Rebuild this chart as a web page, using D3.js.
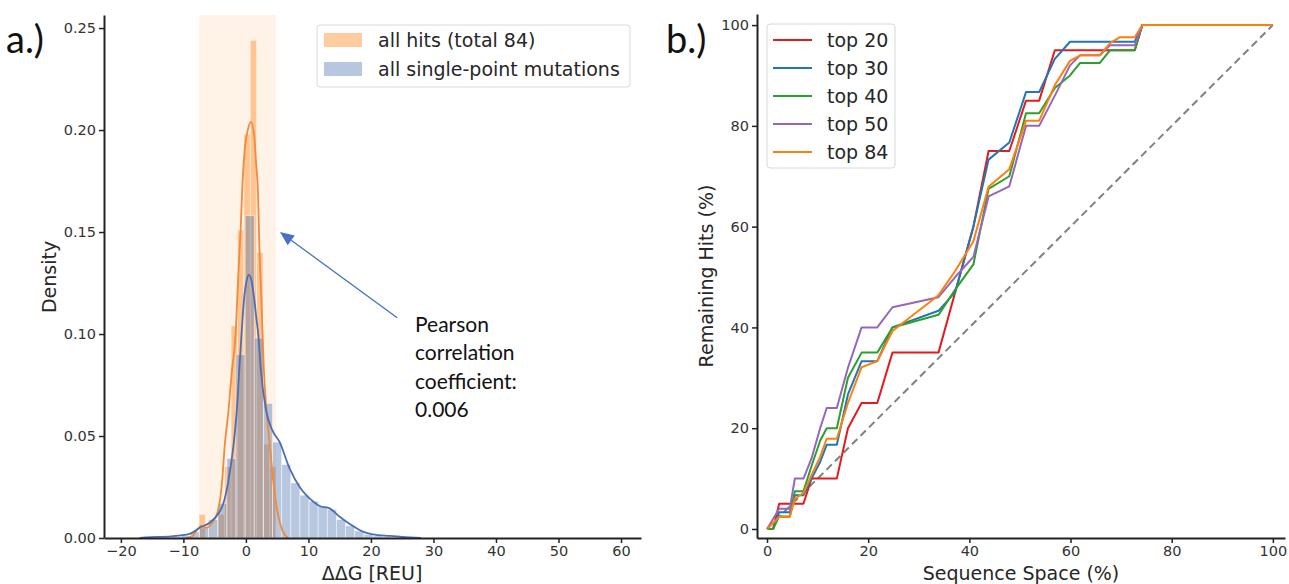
<!DOCTYPE html>
<html>
<head>
<meta charset="utf-8">
<script src="https://cdn.jsdelivr.net/npm/d3@7"></script>
<style>
body{margin:0;background:#fff}
svg text{font-family:"DejaVu Sans",sans-serif}
</style>
</head>
<body>
<svg id="chart" width="1289" height="584"></svg>
<script>
// ---- panel a: histograms of ddG (density) ----
const hitEdges = [-7.5,-6.475,-5.45,-4.425,-3.4,-2.375,-1.35,-0.325,0.7,1.725,2.75,3.775,4.8];
const hitDensity = [0.0116,0,0,0.0116,0.035,0.104,0.151,0.198,0.244,0.14,0.046,0.035];

const allEdges = [-16.18,-14.72,-13.26,-11.8,-10.34,-8.88,-7.42,-5.96,-4.5,-3.04,-1.58,-0.12,1.34,2.8,4.26,5.72,7.18,8.64,10.1,11.56,13.02,14.48,15.94,17.4,18.86,20.32,21.78,23.24,24.7,26.16,27.62];
const allDensity = [0.0002,0.0003,0.0004,0.0006,0.0012,0.003,0.005,0.009,0.017,0.039,0.09,0.158,0.098,0.066,0.047,0.036,0.027,0.021,0.018,0.0155,0.014,0.009,0.006,0.0035,0.0018,0.001,0.0006,0.0004,0.0002,0.0001];

// kde curves
const hitKdeX = [-9.5,-8.5,-7.8,-7.1,-6.4,-5.5,-4.5,-3.8,-3.4,-2.8,-2.3,-1.65,-1.2,-0.85,-0.6,-0.2,0.3,0.8,1.3,1.6,1.97,2.08,2.5,2.88,3.3,3.84,4.37,5.1,5.8,6.7];
const hitKdeY = [0,0.001,0.004,0.006,0.005,0.007,0.013,0.028,0.045,0.062,0.08,0.10,0.13,0.151,0.17,0.19,0.2,0.204,0.198,0.185,0.166,0.151,0.115,0.082,0.062,0.045,0.028,0.012,0.004,0];
const allKdeX = [-17,-16,-12,-9,-7.4,-5.8,-4.4,-3.6,-2.8,-2.0,-1.4,-1.07,-0.7,-0.3,0.1,0.5,0.9,1.3,1.7,1.97,2.4,3.2,4.2,5.4,7.0,8.6,10.8,11.8,13.4,15.0,16.6,18.8,20.3,23,25,28];
const allKdeY = [0,0.0003,0.0008,0.002,0.005,0.0075,0.012,0.017,0.028,0.045,0.065,0.082,0.1,0.117,0.126,0.129,0.126,0.118,0.107,0.1,0.082,0.063,0.053,0.047,0.034,0.025,0.0178,0.0157,0.0145,0.0104,0.0069,0.003,0.0018,0.001,0.0005,0];

const shadeRange = [-7.5, 4.8];
const xTicksA = [-20,-10,0,10,20,30,40,50,60];
const yTicksA = [0,0.05,0.10,0.15,0.20,0.25];
const legendA = ['all hits (total 84)', 'all single-point mutations'];
const noteLines = ['Pearson', 'correlation', 'coefficient:', '0.006'];

// ---- panel b: remaining hits vs sequence space ----
const seqSpace = [0,1.2,2.4,4.5,5.5,7.2,8.8,10.5,11.8,13.8,16.0,18.7,21.8,24.8,33.9,37.2,40.8,43.8,47.9,51.2,53.8,56.9,59.9,61.9,65.8,67.8,69.8,72.7,74.2,100];
const top20 = [0,0,5,5,5,5,10,10,10,10,20,25,25,35,35,47,60,75,75,85,85,95,95,95,95,95,95,95,100,100];
const top30 = [0,0,3.3,3.3,6.7,6.7,10,13.3,16.7,16.7,26.7,33.3,33.3,40,43.3,47,60,73.3,76.7,86.7,86.7,93.3,96.7,96.7,96.7,96.7,96.7,96.7,100,100];
const top40 = [0,0,2.5,2.5,7.5,7.5,12.5,17.5,20,20,30,35,35,40,42.5,47.5,52.5,67.5,70,82.5,82.5,87.5,90,92.5,92.5,95,95,95,100,100];
const top50 = [0,2,4,4,10,10,14,20,24,24,32,40,40,44,46,50,54,66,68,80,80,86,92,94,94,96,96,96,100,100];
const top84 = [0,1.2,2.4,2.4,6,7.1,10.7,14.3,17.9,17.9,25,32.1,33.3,39.3,46.4,51.2,57.1,67.9,71.4,81,81,88.1,92.9,94,94,96.4,97.6,97.6,100,100];
const seriesNames = ['top 20','top 30','top 40','top 50','top 84'];
const seriesColors = ['#e41a1c','#1f77b4','#2ca02c','#9467bd','#ff7f0e'];
const xTicksB = [0,20,40,60,80,100];
const yTicksB = [0,20,40,60,80,100];

const svg = d3.select('#chart');

function styleAxis(g){
    g.select('.domain').attr('stroke','#222').attr('stroke-width',2);
    g.selectAll('.tick line').attr('stroke','#222').attr('stroke-width',1.5);
    g.selectAll('.tick text').attr('fill','#333').style('font-size','14.5px');
}

// ================= panel a =================
const xA = d3.scaleLinear().domain([-22.7,63.2]).range([104,641]);
const yA = d3.scaleLinear().domain([0,0.2564]).range([538,15]);
const ga = svg.append('g');

ga.append('rect')
    .attr('x', xA(shadeRange[0])).attr('width', xA(shadeRange[1]) - xA(shadeRange[0]))
    .attr('y', yA.range()[1]).attr('height', yA.range()[0] - yA.range()[1])
    .attr('fill','#ff7f0e').attr('fill-opacity',0.1);

const drawBars = (edges, dens, color) => {
    ga.append('g').selectAll('rect').data(dens).join('rect')
        .attr('x', (d,i) => xA(edges[i]))
        .attr('width', (d,i) => xA(edges[i+1]) - xA(edges[i]))
        .attr('y', d => yA(d))
        .attr('height', d => yA(0) - yA(d))
        .attr('fill', color).attr('fill-opacity',0.4)
        .attr('stroke','#fff').attr('stroke-opacity',0.6).attr('stroke-width',0.8);
};
drawBars(hitEdges, hitDensity, '#ff7f0e');
drawBars(allEdges, allDensity, '#4c72b0');

const kdeLine = d3.line().x(d => xA(d[0])).y(d => yA(d[1])).curve(d3.curveMonotoneX);
ga.append('path').datum(d3.zip(hitKdeX, hitKdeY)).attr('d', kdeLine)
    .attr('fill','none').attr('stroke','#f28a3c').attr('stroke-width',1.8);
ga.append('path').datum(d3.zip(allKdeX, allKdeY)).attr('d', kdeLine)
    .attr('fill','none').attr('stroke','#4a6fb5').attr('stroke-width',1.8);

ga.append('g').attr('transform','translate(0,538)')
    .call(d3.axisBottom(xA).tickValues(xTicksA).tickSize(5).tickSizeOuter(0).tickFormat(d3.format('d')))
    .call(styleAxis);
ga.append('g').attr('transform','translate(104,0)')
    .call(d3.axisLeft(yA).tickValues(yTicksA).tickSize(5).tickSizeOuter(0).tickFormat(d3.format('.2f')))
    .call(styleAxis);

ga.append('text').attr('x',372).attr('y',580).attr('text-anchor','middle')
    .style('font-size','19px').attr('fill','#262626').text('ΔΔG [REU]');
ga.append('text').attr('transform','translate(56,277) rotate(-90)').attr('text-anchor','middle')
    .style('font-size','19px').attr('fill','#262626').text('Density');

// legend a
const lgA = ga.append('g');
lgA.append('rect').attr('x',317).attr('y',25).attr('width',313).attr('height',62).attr('rx',3)
    .attr('fill','#fff').attr('fill-opacity',0.8).attr('stroke','#d8d8d8');
[['#ff7f0e'],['#4c72b0']].forEach((c,i) => {
    const cy = 40 + i*29;
    lgA.append('rect').attr('x',324).attr('y',cy-7).attr('width',38).attr('height',14)
        .attr('fill',c[0]).attr('fill-opacity',0.4);
    lgA.append('text').attr('x',378).attr('y',cy).attr('dy','0.35em')
        .style('font-size','19px').attr('fill','#262626').text(legendA[i]);
});

// annotation arrow + note
const tip = [xA(5.44), yA(0.15)], tail = [xA(24.2), yA(0.108)];
const ang = Math.atan2(tip[1]-tail[1], tip[0]-tail[0]);
const hl = 14, hw = 6;
const base = [tip[0]-hl*Math.cos(ang), tip[1]-hl*Math.sin(ang)];
ga.append('line').attr('x1',tail[0]).attr('y1',tail[1]).attr('x2',base[0]).attr('y2',base[1])
    .attr('stroke','#4472c4').attr('stroke-width',1.3);
ga.append('path').attr('d', d3.line()([
    tip,
    [base[0]+hw*Math.sin(ang), base[1]-hw*Math.cos(ang)],
    [base[0]-hw*Math.sin(ang), base[1]+hw*Math.cos(ang)]
])+'Z').attr('fill','#4472c4');

const note = ga.append('text').attr('x', xA(27.05)).attr('y', 332)
    .style('font-family','Lato, "Open Sans", sans-serif').style('font-size','21px').attr('fill','#111');
noteLines.forEach((t,i) => note.append('tspan').attr('x', xA(27.05)).attr('dy', i ? 28.4 : 0).text(t));

svg.append('text').attr('x',6).attr('y',53).style('font-family','Lato, "Open Sans", sans-serif')
    .style('font-size','38px').attr('fill','#111').text('a.)');
svg.append('text').attr('x',666).attr('y',53).style('font-family','Lato, "Open Sans", sans-serif')
    .style('font-size','38px').attr('fill','#111').text('b.)');

// ================= panel b =================
const xB = d3.scaleLinear().domain([-1.98,102.4]).range([757,1285]);
const yB = d3.scaleLinear().domain([-1.79,102.2]).range([538,14]);
const gb = svg.append('g');

gb.append('path').datum([[0,0],[100,100]])
    .attr('d', d3.line().x(d => xB(d[0])).y(d => yB(d[1])))
    .attr('stroke','#808080').attr('stroke-width',2).attr('stroke-dasharray','7.5,4.5').attr('fill','none');

const allSeries = [top20, top30, top40, top50, top84];
const hitLine = d3.line().x(d => xB(d[0])).y(d => yB(d[1]));
allSeries.forEach((s,i) => {
    gb.append('path').datum(d3.zip(seqSpace, s)).attr('d', hitLine)
        .attr('fill','none').attr('stroke', seriesColors[i]).attr('stroke-width',2)
        .attr('stroke-linejoin','round');
});

gb.append('g').attr('transform','translate(0,538)')
    .call(d3.axisBottom(xB).tickValues(xTicksB).tickSize(5).tickSizeOuter(0))
    .call(styleAxis);
gb.append('g').attr('transform','translate(757,0)')
    .call(d3.axisLeft(yB).tickValues(yTicksB).tickSize(5).tickSizeOuter(0))
    .call(styleAxis);

gb.append('text').attr('x',1021).attr('y',580).attr('text-anchor','middle')
    .style('font-size','19px').attr('fill','#262626').text('Sequence Space (%)');
gb.append('text').attr('transform','translate(713,276) rotate(-90)').attr('text-anchor','middle')
    .style('font-size','19px').attr('fill','#262626').text('Remaining Hits (%)');

// legend b
const lgB = gb.append('g');
lgB.append('rect').attr('x',767).attr('y',24).attr('width',128).attr('height',144).attr('rx',3)
    .attr('fill','#fff').attr('fill-opacity',0.8).attr('stroke','#d8d8d8');
seriesNames.forEach((n,i) => {
    const cy = 40 + i*28;
    lgB.append('line').attr('x1',773).attr('x2',812).attr('y1',cy).attr('y2',cy)
        .attr('stroke',seriesColors[i]).attr('stroke-width',2);
    lgB.append('text').attr('x',827).attr('y',cy).attr('dy','0.35em')
        .style('font-size','19px').attr('fill','#262626').text(n);
});
</script>
</body>
</html>
